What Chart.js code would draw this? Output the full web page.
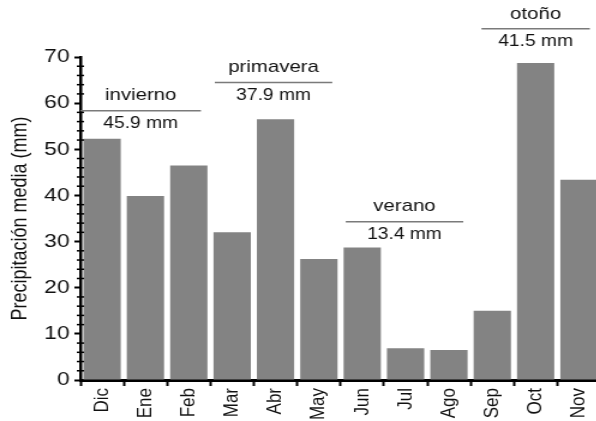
<!DOCTYPE html>
<html>
<head>
<meta charset="utf-8">
<script src="https://cdn.jsdelivr.net/npm/chart.js@4.4.1/dist/chart.umd.min.js"></script>
<style>
html, body { margin: 0; padding: 0; background: #fff; overflow: hidden; width: 596px; height: 421px; }
/* la figura original está estirada en horizontal */
#marco { position: absolute; left: 0; top: 0; width: 505px; height: 421px; transform: scaleX(1.2); transform-origin: 0 0; }
</style>
</head>
<body>
<div id="marco"><canvas id="grafico"></canvas></div>
<script>
// Datos
const meses = ['Dic', 'Ene', 'Feb', 'Mar', 'Abr', 'May', 'Jun', 'Jul', 'Ago', 'Sep', 'Oct', 'Nov'];
const precipitacion = [52.3, 39.9, 46.5, 32.0, 56.5, 26.2, 28.7, 6.9, 6.5, 15.0, 68.7, 43.4];
const estaciones = ['invierno', 'primavera', 'verano', 'otoño'];
const mediasEstacion = [45.9, 37.9, 13.4, 41.5];
const ticksY = [0, 10, 20, 30, 40, 50, 60, 70];

Chart.defaults.font.family = '"Liberation Sans", Arial, sans-serif';
Chart.defaults.color = '#111';

// Rótulos de estación: línea + nombre + media
const rotulosEstacion = {
    id: 'rotulosEstacion',
    afterDraw(chart, args, opts) {
        const ctx = chart.ctx;
        const x = chart.scales.x, y = chart.scales.y;
        ctx.save();
        estaciones.forEach((nombre, i) => {
            const x1 = x.getPixelForValue(opts.tramos[i][0]);
            const x2 = x.getPixelForValue(opts.tramos[i][1]);
            const yy = y.getPixelForValue(opts.niveles[i]);
            ctx.strokeStyle = '#7a7a7a';
            ctx.lineWidth = 1.5;
            ctx.beginPath();
            ctx.moveTo(x1, yy);
            ctx.lineTo(x2, yy);
            ctx.stroke();
            const cx = (x1 + x2) / 2;
            ctx.fillStyle = '#111';
            ctx.textAlign = 'center';
            ctx.textBaseline = 'middle';
            ctx.font = '17px "Liberation Sans", Arial, sans-serif';
            ctx.fillText(nombre, cx, yy - 15);
            ctx.font = '16px "Liberation Sans", Arial, sans-serif';
            ctx.fillText(mediasEstacion[i].toFixed(1) + ' mm', cx, yy + 13);
        });
        ctx.restore();
    }
};

// Marcas menores del eje Y (cada 2 mm)
const marcasMenores = {
    id: 'marcasMenores',
    afterDraw(chart) {
        const ctx = chart.ctx;
        const y = chart.scales.y;
        const ax = chart.chartArea.left;
        ctx.save();
        ctx.strokeStyle = '#000';
        ctx.lineWidth = 1.5;
        for (let v = 2; v < 70; v += 2) {
            if (v % 10 === 0) continue;
            const py = y.getPixelForValue(v);
            ctx.beginPath();
            ctx.moveTo(ax - 3, py);
            ctx.lineTo(ax + 3, py);
            ctx.stroke();
        }
        ctx.restore();
    }
};

new Chart(document.getElementById('grafico'), {
    type: 'bar',
    data: {
        labels: meses,
        datasets: [{
            data: precipitacion,
            backgroundColor: '#838383',
            borderWidth: 0,
            barPercentage: 0.86,
            categoryPercentage: 1.0
        }]
    },
    options: {
        responsive: true,
        maintainAspectRatio: false,
        animation: false,
        layout: { padding: { top: 57, right: 3, left: 0, bottom: 0 } },
        scales: {
            x: {
                afterFit: s => { s.height = 41; },
                grid: { drawOnChartArea: false, tickLength: 6, tickWidth: 2, tickColor: '#000' },
                border: { color: '#000', width: 3 },
                ticks: { minRotation: 90, maxRotation: 90, autoSkip: false, padding: 2, font: { size: 17 }, color: '#111' }
            },
            y: {
                min: 0,
                max: 70,
                afterFit: s => { s.width = 67; },
                afterBuildTicks: s => { s.ticks = ticksY.map(v => ({ value: v })); },
                grid: { drawOnChartArea: false, tickLength: 5, tickWidth: 2, tickColor: '#000' },
                border: { color: '#000', width: 2.5 },
                ticks: { padding: 4, font: { size: 19 }, color: '#111' },
                title: { display: true, text: 'Precipitación media (mm)', font: { size: 18 }, color: '#111', padding: { top: 6 } }
            }
        },
        plugins: {
            legend: { display: false },
            tooltip: { enabled: false },
            rotulosEstacion: {
                tramos: [[-0.5, 2.28], [2.6, 5.31], [5.62, 8.33], [8.75, 11.25]],
                niveles: [58.35, 64.5, 34.3, 76.1]
            }
        }
    },
    plugins: [rotulosEstacion, marcasMenores]
});
</script>
</body>
</html>
